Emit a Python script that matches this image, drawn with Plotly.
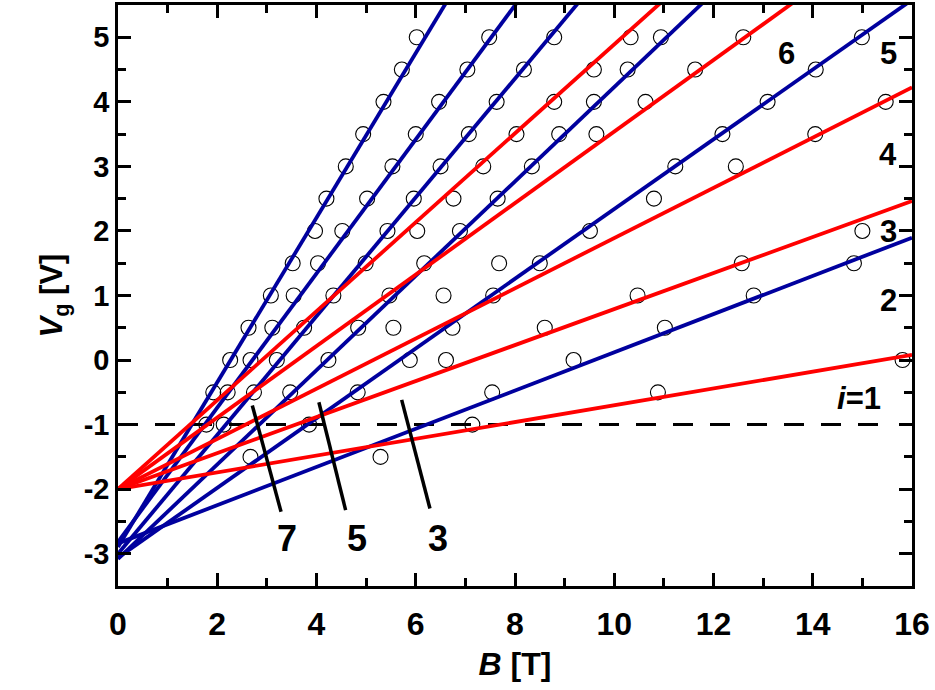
import plotly.graph_objects as go

# ---- data ----
V_levels = [5, 4.5, 4, 3.5, 3, 2.5, 2, 1.5, 1, 0.5, 0, -0.5, -1, -1.5]
B_points = [
    [6.02, 7.48, 8.79, 10.33, 10.94, 12.60, 14.99],
    [5.72, 7.04, 8.18, 9.59, 10.27, 11.63, 14.06],
    [5.35, 6.47, 7.63, 8.79, 9.59, 10.63, 13.09, 15.47],
    [4.94, 6.00, 7.07, 8.03, 8.89, 9.64, 12.18, 14.05],
    [4.59, 5.53, 6.50, 7.36, 8.34, 11.23, 12.45],
    [4.20, 5.02, 5.96, 6.76, 7.65, 10.80],
    [3.97, 4.52, 5.43, 6.03, 6.89, 9.51, 15.00],
    [3.52, 4.03, 4.99, 6.17, 7.68, 8.50, 12.57, 14.83],
    [3.08, 3.54, 4.34, 5.47, 6.56, 7.56, 10.47, 12.81],
    [2.63, 3.11, 3.75, 4.84, 5.55, 6.74, 8.60, 11.02],
    [2.26, 2.67, 3.20, 4.24, 5.88, 6.61, 9.18, 15.81],
    [1.92, 2.21, 2.74, 3.47, 4.83, 7.54, 10.88],
    [1.78, 2.13, 3.85, 7.14],
    [2.67, 5.29],
]

red_intercepts = [-2.0, -2.0, -2.0, -2.0, -2.0]
red_slopes = [0.130, 0.279, 0.389, 0.554, 0.689]
blue_intercepts = [-2.895, -2.816, -3.00, -3.08, -3.06, -2.84]
blue_slopes = [1.275, 1.039, 0.920, 0.731, 0.540, 0.296]

B_range = [0, 16]
V_range = [-3.5, 5.5]
dashed_B = [0, 15.6]
dashed_level = -1

right_labels = ["6", "5", "4", "3", "2"]
right_label_B = [13.48, 15.52, 15.52, 15.52, 15.52]
right_label_V = [4.75, 4.75, 3.19, 1.99, 0.93]
bottom_labels = ["7", "5", "3"]
bottom_label_B = [3.41, 4.82, 6.44]
bottom_label_V = [-2.76, -2.76, -2.76]
pointer_B = [[2.706, 3.286], [4.048, 4.587], [5.716, 6.286]]
pointer_V = [[-0.703, -2.351], [-0.653, -2.325], [-0.617, -2.300]]

RED = "#FF0000"
BLUE = "#00009E"
FONT = "Liberation Sans, Arial, sans-serif"

fig = go.Figure()

# circles
xs, ys = [], []
for v, bs in zip(V_levels, B_points):
    for b in bs:
        xs.append(b)
        ys.append(v)
fig.add_trace(go.Scatter(x=xs, y=ys, mode="markers",
                         marker=dict(symbol="circle-open", size=15, color="black",
                                     line=dict(width=1.1, color="black")),
                         showlegend=False, hoverinfo="skip"))

# dashed i=1 line
fig.add_trace(go.Scatter(x=dashed_B, y=[dashed_level, dashed_level], mode="lines",
                         line=dict(color="black", width=3, dash="20px,17px"),
                         showlegend=False, hoverinfo="skip"))

# blue fan lines
for a, s in zip(blue_intercepts, blue_slopes):
    fig.add_trace(go.Scatter(x=B_range, y=[a + s * b for b in B_range], mode="lines",
                             line=dict(color=BLUE, width=3.8),
                             showlegend=False, hoverinfo="skip"))
# red fan lines
for a, s in zip(red_intercepts, red_slopes):
    fig.add_trace(go.Scatter(x=B_range, y=[a + s * b for b in B_range], mode="lines",
                             line=dict(color=RED, width=3.8),
                             showlegend=False, hoverinfo="skip"))

# pointer strokes
for pb, pv in zip(pointer_B, pointer_V):
    fig.add_shape(type="line", x0=pb[0], x1=pb[1], y0=pv[0], y1=pv[1],
                  xref="x", yref="y", line=dict(color="black", width=3.5))

ann = []
for t, b, v in zip(right_labels, right_label_B, right_label_V):
    ann.append(dict(x=b, y=v, text="<b>%s</b>" % t, showarrow=False,
                    font=dict(family=FONT, size=31, color="black")))
ann.append(dict(x=14.93, y=-0.59, text="<b><i>i</i>=1</b>", showarrow=False,
                font=dict(family=FONT, size=31, color="black")))
for t, b, v in zip(bottom_labels, bottom_label_B, bottom_label_V):
    ann.append(dict(x=b, y=v, text="<b>%s</b>" % t, showarrow=False,
                    font=dict(family=FONT, size=36, color="black")))

axis_common = dict(showgrid=False, zeroline=False, showline=True, linecolor="black",
                   linewidth=2.5, mirror="allticks", ticks="inside", tickcolor="black",
                   tickwidth=2.5, ticklen=13)

fig.update_layout(
    width=935, height=690,
    margin=dict(l=118, r=23, t=2, b=104),
    paper_bgcolor="white", plot_bgcolor="white",
    annotations=ann,
    xaxis=dict(range=B_range, tickmode="array", tickvals=list(range(0, 17, 2)),
               ticktext=["<b>%d</b>" % v for v in range(0, 17, 2)],
               tickfont=dict(family=FONT, size=32, color="black"),
               ticklabelstandoff=8,
               minor=dict(ticks="inside", dtick=1, ticklen=8, tickwidth=2.5, tickcolor="black"),
               title=dict(text="<b><i>B</i> [T]</b>", font=dict(family=FONT, size=32, color="black"),
                          standoff=12),
               **axis_common),
    yaxis=dict(range=V_range, tickmode="array", tickvals=list(range(-3, 6)),
               ticktext=["<b>%d</b>" % v for v in range(-3, 6)],
               tickfont=dict(family=FONT, size=29, color="black"),
               minor=dict(ticks="inside", dtick=0.5, ticklen=8, tickwidth=2.5, tickcolor="black"),
               title=dict(text="<b><i>V</i><sub>g</sub> [V]</b>",
                          font=dict(family=FONT, size=31, color="black"), standoff=12),
               **axis_common),
)

fig.write_html("out.html")
